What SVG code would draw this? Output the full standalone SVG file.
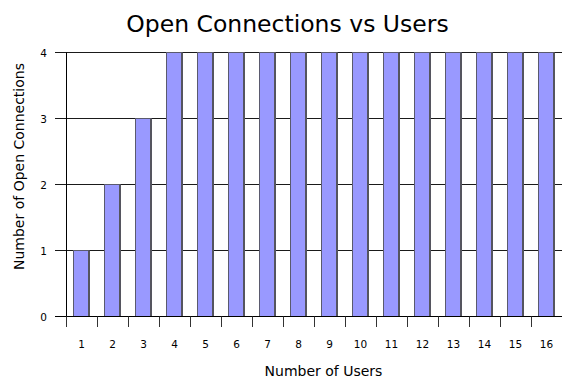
<svg xmlns="http://www.w3.org/2000/svg" width="562" height="381" viewBox="0 0 562 381">
  <style>
    text { font-family: "DejaVu Sans", Verdana, sans-serif; fill: #000; }
    .title { font-size: 23.5px; text-anchor: middle; }
    .axis-title { font-size: 14px; text-anchor: middle; }
    .ytick { font-size: 10.5px; text-anchor: end; }
    .xtick { font-size: 10.5px; text-anchor: middle; }
    .grid { stroke: #1a1a1a; stroke-width: 1; fill: none; }
    .axis { stroke: #000; stroke-width: 1; fill: none; }
    .tick { stroke: #333; stroke-width: 1; fill: none; }
    .bar rect { fill: #9999ff; stroke: #5a5a6e; stroke-width: 1; }
    .bar line { stroke: #55555f; stroke-width: 2; }
  </style>
  <rect width="562" height="381" fill="#fff"/>

  <text class="title" x="287.5" y="31.5">Open Connections vs Users</text>

  <!-- horizontal gridlines (values 1..4) -->
  <g id="gridlines">
    <path class="grid" d="M55 250.5H562M55 184.5H562M55 118.5H562M55 52.5H562"/>
  </g>

  <!-- bars: x = 42.5 + 31*i, 66px per unit above baseline 316.5 -->
  <g id="bars">
    <g id="bar-1" class="bar"><rect x="73.5" y="250.5" width="15.5" height="66"/><line x1="89" y1="250.5" x2="89" y2="316.5"/></g>
    <g id="bar-2" class="bar"><rect x="104.5" y="184.5" width="15.5" height="132"/><line x1="120" y1="184.5" x2="120" y2="316.5"/></g>
    <g id="bar-3" class="bar"><rect x="135.5" y="118.5" width="15.5" height="198"/><line x1="151" y1="118.5" x2="151" y2="316.5"/></g>
    <g id="bar-4" class="bar"><rect x="166.5" y="52.5" width="15.5" height="264"/><line x1="182" y1="52.5" x2="182" y2="316.5"/></g>
    <g id="bar-5" class="bar"><rect x="197.5" y="52.5" width="15.5" height="264"/><line x1="213" y1="52.5" x2="213" y2="316.5"/></g>
    <g id="bar-6" class="bar"><rect x="228.5" y="52.5" width="15.5" height="264"/><line x1="244" y1="52.5" x2="244" y2="316.5"/></g>
    <g id="bar-7" class="bar"><rect x="259.5" y="52.5" width="15.5" height="264"/><line x1="275" y1="52.5" x2="275" y2="316.5"/></g>
    <g id="bar-8" class="bar"><rect x="290.5" y="52.5" width="15.5" height="264"/><line x1="306" y1="52.5" x2="306" y2="316.5"/></g>
    <g id="bar-9" class="bar"><rect x="321.5" y="52.5" width="15.5" height="264"/><line x1="337" y1="52.5" x2="337" y2="316.5"/></g>
    <g id="bar-10" class="bar"><rect x="352.5" y="52.5" width="15.5" height="264"/><line x1="368" y1="52.5" x2="368" y2="316.5"/></g>
    <g id="bar-11" class="bar"><rect x="383.5" y="52.5" width="15.5" height="264"/><line x1="399" y1="52.5" x2="399" y2="316.5"/></g>
    <g id="bar-12" class="bar"><rect x="414.5" y="52.5" width="15.5" height="264"/><line x1="430" y1="52.5" x2="430" y2="316.5"/></g>
    <g id="bar-13" class="bar"><rect x="445.5" y="52.5" width="15.5" height="264"/><line x1="461" y1="52.5" x2="461" y2="316.5"/></g>
    <g id="bar-14" class="bar"><rect x="476.5" y="52.5" width="15.5" height="264"/><line x1="492" y1="52.5" x2="492" y2="316.5"/></g>
    <g id="bar-15" class="bar"><rect x="507.5" y="52.5" width="15.5" height="264"/><line x1="523" y1="52.5" x2="523" y2="316.5"/></g>
    <g id="bar-16" class="bar"><rect x="538.5" y="52.5" width="15.5" height="264"/><line x1="554" y1="52.5" x2="554" y2="316.5"/></g>
  </g>

  <!-- axes and tick marks -->
  <g id="axes">
    <path class="axis" d="M66.5 52.5V316.5M55 316.5H562"/>
    <path class="tick" d="M66.5 316.5V327M97.5 316.5V327M128.5 316.5V327M159.5 316.5V327M190.5 316.5V327M221.5 316.5V327M252.5 316.5V327M283.5 316.5V327M314.5 316.5V327M345.5 316.5V327M376.5 316.5V327M407.5 316.5V327M438.5 316.5V327M469.5 316.5V327M500.5 316.5V327M531.5 316.5V327"/>
  </g>

  <g id="y-labels">
    <text class="ytick" x="47" y="320.5">0</text>
    <text class="ytick" x="47" y="254.5">1</text>
    <text class="ytick" x="47" y="188.5">2</text>
    <text class="ytick" x="47" y="122.5">3</text>
    <text class="ytick" x="47" y="56.5">4</text>
  </g>

  <g id="x-labels">
    <text class="xtick" x="81.5" y="348">1</text>
    <text class="xtick" x="112.5" y="348">2</text>
    <text class="xtick" x="143.5" y="348">3</text>
    <text class="xtick" x="174.5" y="348">4</text>
    <text class="xtick" x="205.5" y="348">5</text>
    <text class="xtick" x="236.5" y="348">6</text>
    <text class="xtick" x="267.5" y="348">7</text>
    <text class="xtick" x="298.5" y="348">8</text>
    <text class="xtick" x="329.5" y="348">9</text>
    <text class="xtick" x="360.5" y="348">10</text>
    <text class="xtick" x="391.5" y="348">11</text>
    <text class="xtick" x="422.5" y="348">12</text>
    <text class="xtick" x="453.5" y="348">13</text>
    <text class="xtick" x="484.5" y="348">14</text>
    <text class="xtick" x="515.5" y="348">15</text>
    <text class="xtick" x="546.5" y="348">16</text>
  </g>

  <text class="axis-title" x="323.5" y="376">Number of Users</text>
  <text class="axis-title" transform="translate(24 166.5) rotate(-90)">Number of Open Connections</text>
</svg>
